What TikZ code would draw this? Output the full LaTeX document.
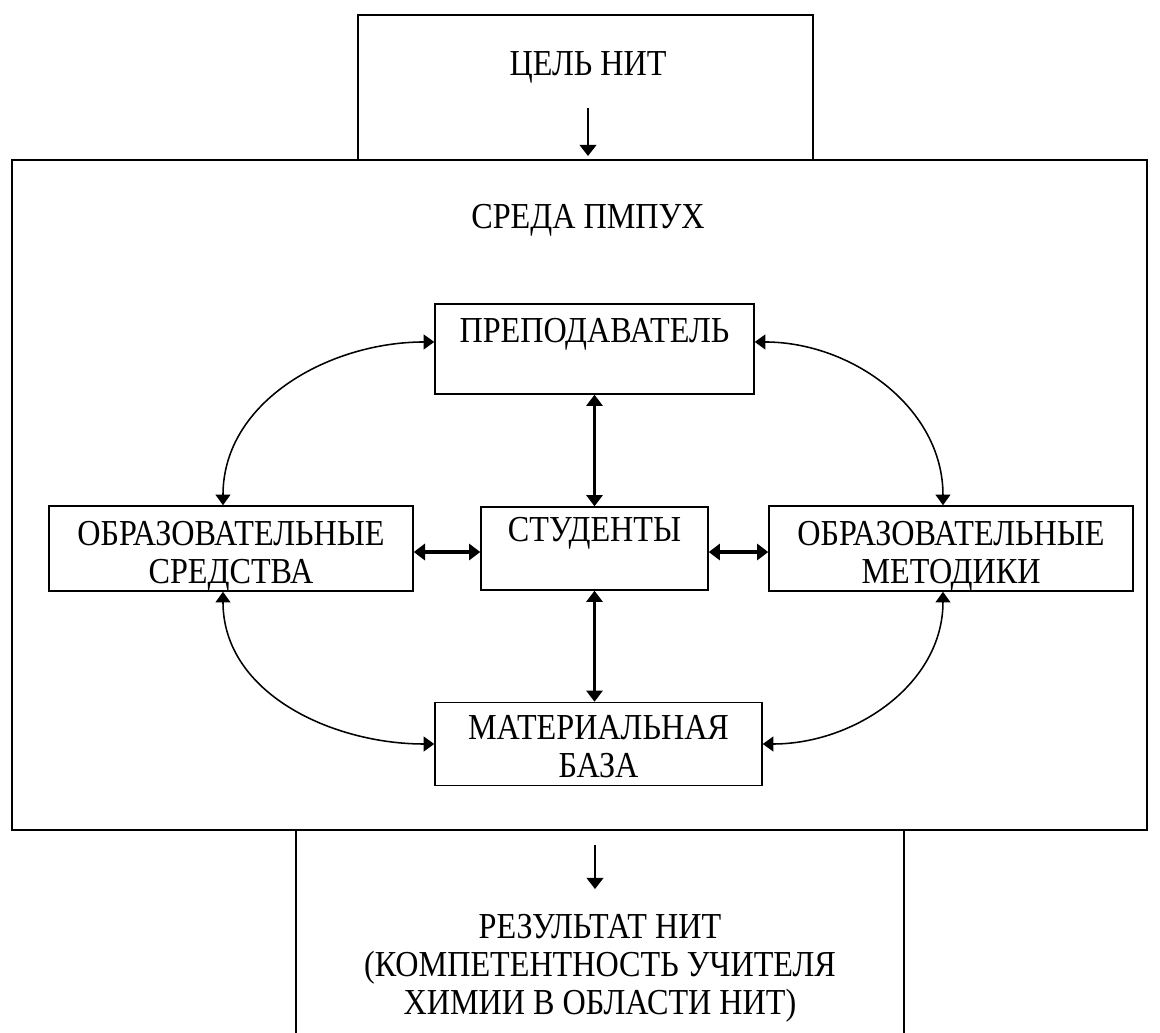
\documentclass[tikz,border=0pt]{standalone}
\usepackage{fontspec}
\setmainfont[FakeStretch=0.88]{Liberation Serif}
\usetikzlibrary{shapes, arrows.meta, positioning}

\tikzset{
  frame/.style={draw=black,line width=1pt},
  blok/.style={draw=black,line width=1pt,align=center,inner sep=0pt,minimum height=2.075cm},
  txt/.style={align=center},
}

\begin{document}
\begin{tikzpicture}[x=0.025cm,y=-0.025cm,font=\fontsize{26}{27}\selectfont]
        \useasboundingbox (0,0) rectangle (1160,1033);
        \draw[frame] (358,15) rectangle (813,160);
        \draw[frame] (12,160) rectangle (1147,830);
        \draw[frame] (296,830) rectangle (904,1060);
        \node[txt] (cel) at (588,67) {ЦЕЛЬ НИТ};
        \node[txt] (sreda) at (588,220) {СРЕДА ПМПУХ};
        \node[txt] (rezult) at (600,968) {РЕЗУЛЬТАТ НИТ\\(КОМПЕТЕНТНОСТЬ УЧИТЕЛЯ\\ХИМИИ В ОБЛАСТИ НИТ)};
        \begin{scope}[every node/.style={blok}]
          \node[minimum width=7.975cm,minimum height=2.25cm] (prep) at (594.5,349) {ПРЕПОДАВАТЕЛЬ\\~};
          \node[minimum width=9.1cm] (sredstva) at (231,548.5) {\rule{0pt}{28pt}ОБРАЗОВАТЕЛЬНЫЕ\\СРЕДСТВА};
          \node[minimum width=5.675cm] (stud) at (594.5,548.5) {СТУДЕНТЫ\\~};
          \node[minimum width=9.1cm] (metodiki) at (951,548.5) {\rule{0pt}{28pt}ОБРАЗОВАТЕЛЬНЫЕ\\МЕТОДИКИ};
          \node[minimum width=8.175cm] (baza) at (598.5,744) {\rule{0pt}{21pt}МАТЕРИАЛЬНАЯ\\БАЗА};
        \end{scope}
        \coordinate (celout) at (588,108);
        \coordinate (sredain) at (588,156);
        \coordinate (sredaout) at (595,845);
        \coordinate (rezultin) at (595,889);
        \begin{scope}[every edge/.style={draw=black,line width=1.4pt,-{Triangle[length=8pt,width=12pt]}}]
          \path (celout) edge (sredain);
          \path (sredaout) edge (rezultin);
        \end{scope}
        \begin{scope}[every edge/.style={draw=black,line width=2.3pt,{Triangle[length=8pt,width=11.5pt]}-{Triangle[length=8pt,width=11.5pt]}}]
          \path ([yshift=-2.5pt]sredstva.east) edge ([yshift=-2.5pt]stud.west);
          \path ([yshift=-2.5pt]stud.east) edge ([yshift=-2.5pt]metodiki.west);
          \path (stud.north) edge (stud.north |- prep.south);
          \path (stud.south) edge (stud.south |- baza.north);
        \end{scope}
        \begin{scope}[every edge/.style={draw=black,line width=1.1pt,{Triangle[length=7.5pt,width=10.5pt]}-{Triangle[length=7.5pt,width=10.5pt]}}]
          \path ([yshift=5pt]prep.west) edge[out=180,in=90] ([xshift=-5.7pt]sredstva.north);
          \path ([yshift=5pt]prep.east) edge[out=0,in=90] ([xshift=-5.7pt]metodiki.north);
          \path ([xshift=-5.7pt]sredstva.south) edge[out=-90,in=180] (baza.west);
          \path ([xshift=-5.7pt]metodiki.south) edge[out=-90,in=0] (baza.east);
        \end{scope}
      \end{tikzpicture}
\end{document}
